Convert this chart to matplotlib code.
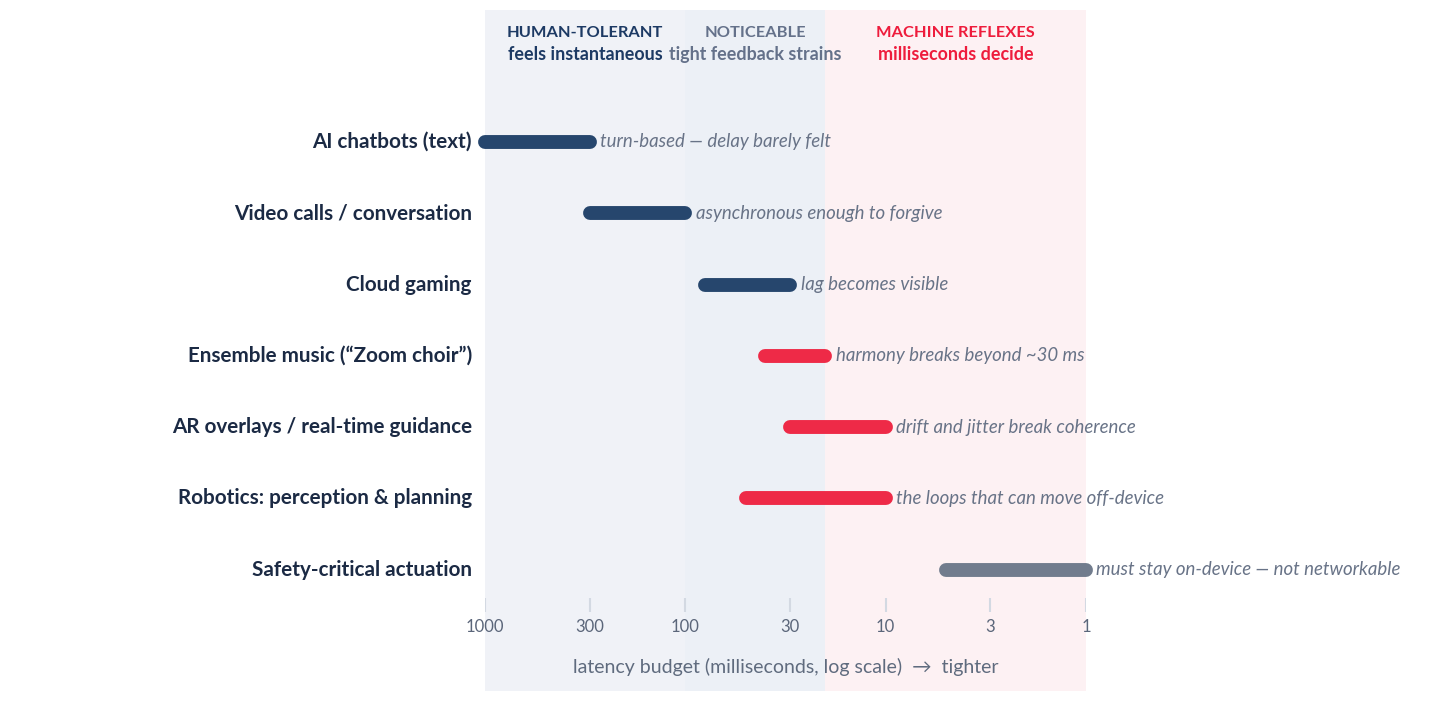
import numpy as np
import matplotlib.pyplot as plt

plt.rcParams['font.family'] = ['Lato', 'DejaVu Sans']

##### Data #####

tasks = ["AI chatbots (text)", "Video calls / conversation", "Cloud gaming",
         "Ensemble music (\u201cZoom choir\u201d)", "AR overlays / real-time guidance",
         "Robotics: perception & planning", "Safety-critical actuation"]
lat_hi = [1000, 300, 80, 40, 30, 50, 5]     # ms, loose end
lat_lo = [300, 100, 30, 20, 10, 10, 1]      # ms, tight end
group = ["human", "human", "human", "machine", "machine", "machine", "local"]
notes = ["turn-based \u2014 delay barely felt", "asynchronous enough to forgive",
         "lag becomes visible", "harmony breaks beyond ~30 ms",
         "drift and jitter break coherence", "the loops that can move off-device",
         "must stay on-device \u2014 not networkable"]

zone_edges = [1000, 100, 20, 1]
zone_titles = ["HUMAN-TOLERANT", "NOTICEABLE", "MACHINE REFLEXES"]
zone_subs = ["feels instantaneous", "tight feedback strains", "milliseconds decide"]

ticks = [1000, 300, 100, 30, 10, 3, 1]

##### Styles #####

bar_col = {"human": "#26466d", "machine": "#ee2a47", "local": "#717c8d"}
zone_fill = ["#f0f2f7", "#ecf0f6", "#fdf1f3"]
zone_text = ["#1d3a64", "#64718a", "#ee1c3c"]

fig = plt.figure(figsize=(14.56, 7.16), dpi=100)
ax = fig.add_axes([485/1456, 25/716, 601/1456, 681/716])
ax.set_xscale('log')
ax.set_xlim(1000, 1)
ax.set_ylim(7.70, -1.85)
ax.axis('off')

# zones
for i in range(3):
    ax.axvspan(zone_edges[i], zone_edges[i+1], color=zone_fill[i], zorder=0, lw=0)
    xc = np.sqrt(zone_edges[i] * zone_edges[i+1])
    ax.text(xc, -1.53, zone_titles[i], ha='center', va='center', fontsize=11.8,
            fontweight='bold', color=zone_text[i])
    ax.text(xc, -1.23, zone_subs[i], ha='center', va='center', fontsize=12.9,
            fontweight='bold', color=zone_text[i])

# bars
for i in range(len(tasks)):
    ax.plot([lat_hi[i], lat_lo[i]], [i, i], color=bar_col[group[i]], lw=10,
            solid_capstyle='round', zorder=3, clip_on=False)
    ax.annotate(tasks[i], xy=(1000, i), xytext=(-9.5, 0), textcoords='offset points',
                ha='right', va='center', fontsize=14.9, fontweight='bold',
                color='#1b2a44', annotation_clip=False)
    ax.annotate(notes[i], xy=(lat_lo[i], i), xytext=(7.5, 0), textcoords='offset points',
                ha='left', va='center', fontsize=13.4, style='italic',
                color='#687387', annotation_clip=False)

# axis ticks drawn by hand inside the zones
ax.vlines(ticks, 6.39, 6.59, color='#d3d9e2', lw=1.5, zorder=2)
for t in ticks:
    ax.text(t, 6.80, str(t), ha='center', va='center', fontsize=12, color='#5b667a')
ax.text(np.sqrt(1000 * 1), 7.37, "latency budget (milliseconds, log scale)  \u2192  tighter",
        ha='center', va='center', fontsize=14, color='#5f6b7e')

plt.savefig('out.png', dpi=100)
